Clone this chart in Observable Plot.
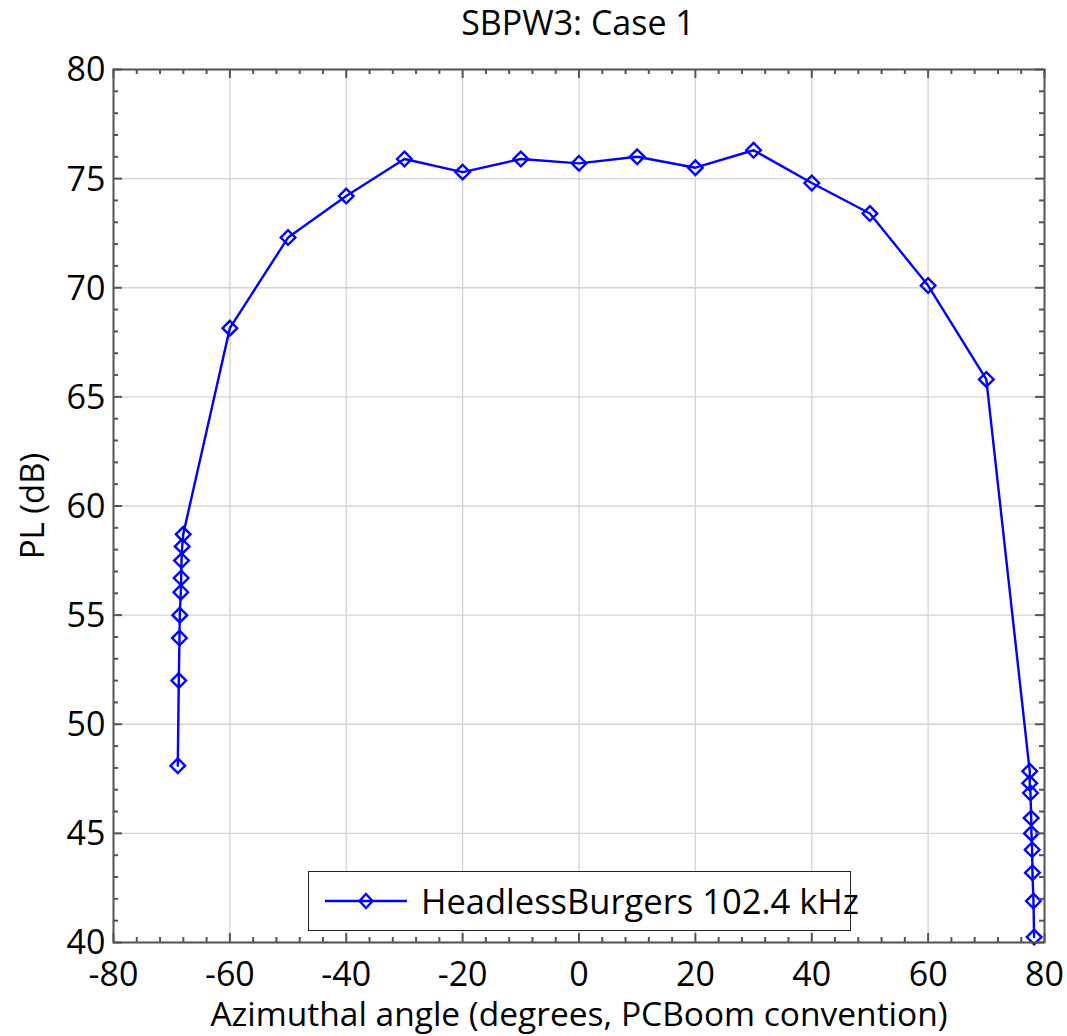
<!DOCTYPE html>
<html>
<head>
<meta charset="utf-8">
<script src="https://cdn.jsdelivr.net/npm/d3@7"></script>
<script src="https://cdn.jsdelivr.net/npm/@observablehq/plot@0.6"></script>
<style>
  html, body { margin: 0; padding: 0; background: #fff; }
  body { width: 1067px; height: 1036px; position: relative; overflow: hidden; font-family: "Open Sans", sans-serif; }
  #title { height: 46px; line-height: 44px; font-size: 34px; text-align: center; padding-left: 89px; box-sizing: border-box; width: 1067px; color: #000; }
  #legend { position: absolute; left: 308px; top: 871px; width: 543px; height: 60px; box-sizing: border-box; border: 1px solid #222; background: #fff; overflow: visible; white-space: nowrap; }
  #legend svg { position: absolute; left: 16px; top: 0; }
  #legend span { position: absolute; left: 112px; top: 0; line-height: 58px; font-size: 34.5px; color: #000; }
</style>
</head>
<body>
<div id="title">SBPW3: Case 1</div>
<div id="chart"></div>
<div id="legend"></div>
<script>
// Data
const seriesName = "HeadlessBurgers 102.4 kHz";
const angle = [-68.95, -68.78, -68.66, -68.61, -68.43, -68.37, -68.31, -68.19, -68.02,
  -60, -50, -40, -30, -20, -10, 0, 10, 20, 30, 40, 50, 60, 70,
  77.46, 77.46, 77.59, 77.71, 77.76, 77.88, 77.93, 78.10, 78.22];
const pl = [48.1, 52.0, 53.95, 55.0, 56.05, 56.7, 57.5, 58.15, 58.7,
  68.15, 72.3, 74.2, 75.9, 75.3, 75.9, 75.7, 76.0, 75.5, 76.3, 74.8, 73.4, 70.1, 65.8,
  47.85, 47.3, 46.85, 45.7, 45.0, 44.25, 43.2, 41.9, 40.25];
const xTicks = [-80, -60, -40, -20, 0, 20, 40, 60, 80];
const yTicks = [40, 45, 50, 55, 60, 65, 70, 75, 80];
const xMinor = d3.range(-80, 81, 4).filter(v => v % 20 !== 0);
const yMinor = d3.range(40, 81, 1).filter(v => v % 5 !== 0);

const data = angle.map((a, i) => ({angle: a, pl: pl[i]}));

const W = 1067, H = 990;
const mL = 113, mR = 23, mT = 23, mB = 94;
const pw = W - mL - mR, ph = H - mT - mB;
const blue = "#0000ff";
const axisColor = "#555";
const major = 9, minor = 5;

const chart = Plot.plot({
  width: W, height: H,
  marginLeft: mL, marginRight: mR, marginTop: mT, marginBottom: mB,
  style: {fontFamily: "'Open Sans', sans-serif", color: "#000", background: "#fff"},
  x: {domain: [-80, 80], label: null},
  y: {domain: [40, 80], label: null},
  marks: [
    Plot.gridX(xTicks, {stroke: "#d4d4d4", strokeOpacity: 1, strokeWidth: 1.3}),
    Plot.gridY(yTicks, {stroke: "#d4d4d4", strokeOpacity: 1, strokeWidth: 1.3}),
    Plot.line(data, {x: "angle", y: "pl", stroke: blue, strokeWidth: 2.4}),
    Plot.dot(data, {x: "angle", y: "pl", symbol: "diamond2", r: 6.6, stroke: blue, strokeWidth: 2.4, fill: "none"}),
    // inward ticks, bottom & top
    Plot.tickX(xTicks, {x: d => d, insetTop: ph - major, stroke: axisColor, strokeWidth: 2}),
    Plot.tickX(xTicks, {x: d => d, insetBottom: ph - major, stroke: axisColor, strokeWidth: 2}),
    Plot.tickX(xMinor, {x: d => d, insetTop: ph - minor, stroke: axisColor, strokeWidth: 2}),
    Plot.tickX(xMinor, {x: d => d, insetBottom: ph - minor, stroke: axisColor, strokeWidth: 2}),
    // inward ticks, left & right
    Plot.tickY(yTicks, {y: d => d, insetRight: pw - major, stroke: axisColor, strokeWidth: 2}),
    Plot.tickY(yTicks, {y: d => d, insetLeft: pw - major, stroke: axisColor, strokeWidth: 2}),
    Plot.tickY(yMinor, {y: d => d, insetRight: pw - minor, stroke: axisColor, strokeWidth: 2}),
    Plot.tickY(yMinor, {y: d => d, insetLeft: pw - minor, stroke: axisColor, strokeWidth: 2}),
    Plot.frame({stroke: axisColor, strokeWidth: 2}),
    Plot.axisX(xTicks, {anchor: "bottom", tickSize: 0, tickPadding: 19, fontSize: 34, tickFormat: d => String(d), label: null}),
    Plot.axisY(yTicks, {anchor: "left", tickSize: 0, tickPadding: 8, fontSize: 34, tickFormat: d => String(d), label: null, dy: 1}),
    Plot.text(["Azimuthal angle (degrees, PCBoom convention)"], {frameAnchor: "bottom", dy: 73, fontSize: 33.5, textAnchor: "middle", lineAnchor: "middle"}),
    Plot.text(["PL (dB)"], {frameAnchor: "left", dx: -80, rotate: -90, fontSize: 33, textAnchor: "middle", lineAnchor: "middle"})
  ]
});
document.getElementById("chart").appendChild(chart);

// Legend
const leg = document.getElementById("legend");
leg.innerHTML = `<svg width="90" height="58" viewBox="0 0 90 58">
  <line x1="0" y1="29" x2="82" y2="29" stroke="${blue}" stroke-width="2.4"/>
  <path d="M41,22 L47.5,29 L41,36 L34.5,29 Z" fill="none" stroke="${blue}" stroke-width="2.4"/>
</svg><span></span>`;
leg.querySelector("span").textContent = seriesName;
</script>
</body>
</html>
